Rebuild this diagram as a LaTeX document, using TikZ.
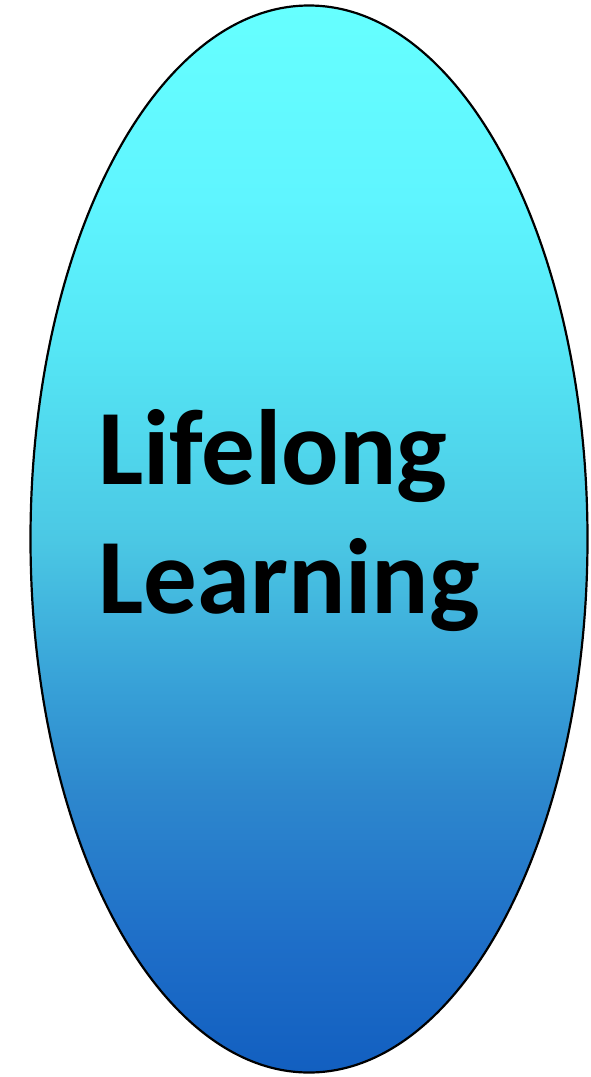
\documentclass[tikz,border=0pt]{standalone}
\usepackage{fontspec}
\setmainfont{Carlito}
\usetikzlibrary{shapes.geometric}
\definecolor{lifetop}{RGB}{102,255,255}
\definecolor{life200}{RGB}{95,245,255}
\definecolor{life350}{RGB}{85,230,245}
\definecolor{life540}{RGB}{75,200,228}
\definecolor{life680}{RGB}{55,160,215}
\definecolor{life800}{RGB}{45,135,205}
\definecolor{life950}{RGB}{30,110,200}
\definecolor{lifebot}{RGB}{18,95,192}
\pgfdeclareverticalshading{lifeshade}{100bp}{%
	color(0bp)=(lifebot); color(25bp)=(lifebot);
	color(31bp)=(life950); color(38bp)=(life800);
	color(43bp)=(life680); color(50bp)=(life540);
	color(59bp)=(life350); color(66bp)=(life200);
	color(75bp)=(lifetop); color(100bp)=(lifetop)}
\tikzset{
	oval/.style={ellipse, draw, line width=2.2pt, shading=lifeshade,
		minimum width=557pt, minimum height=1067pt, inner sep=0pt},
	title/.style={align=left, inner sep=0pt,
		font=\fontsize{107}{129}\selectfont\bfseries}
}
\begin{document}
\begin{tikzpicture}[x=1pt,y=-1pt]
	\useasboundingbox (0,0) rectangle (590,1077);
	\node[oval] (egg) at (309,539) {};
	\node[title, anchor=north west] (words) at (98,409) {Lifelong\\Learning};
\end{tikzpicture}
\end{document}
